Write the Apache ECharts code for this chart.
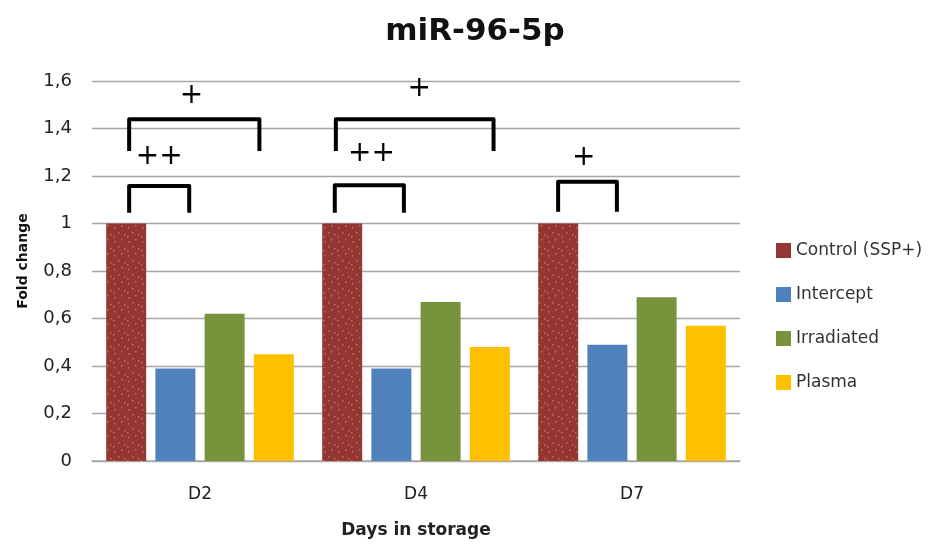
<!DOCTYPE html>
<html><head><meta charset="utf-8">
<script src="https://cdn.jsdelivr.net/npm/echarts@6/dist/echarts.min.js"></script>
<style>html,body{margin:0;padding:0;background:#fff}#c{width:936px;height:544px}</style>
</head><body><div id="c"></div>
<script>
const categories = ['D2', 'D4', 'D7'];
const seriesNames = ['Control (SSP+)', 'Intercept', 'Irradiated', 'Plasma'];
const controlVals = [1, 1, 1];
const interceptVals = [0.39, 0.39, 0.49];
const irradiatedVals = [0.62, 0.67, 0.69];
const plasmaVals = [0.45, 0.48, 0.57];
const yTicks = [0, 0.2, 0.4, 0.6, 0.8, 1, 1.2, 1.4, 1.6];
// significance brackets: category index, x offsets (fraction of category width), top & leg-bottom values
const bracketCat = [0, 0, 1, 1, 2];
const bracketX0 = [-0.328, -0.328, -0.371, -0.376, -0.342];
const bracketX1 = [-0.05, 0.275, 0.359, -0.056, -0.07];
const bracketTop = [1.158, 1.439, 1.439, 1.161, 1.176];
const bracketBottom = [1.045, 1.305, 1.305, 1.045, 1.05];
// significance marks
const markCat = [0, 0, 1, 1, 2];
const markX = [-0.189, -0.039, -0.206, 0.015, -0.224];
const markY = [1.281, 1.537, 1.293, 1.569, 1.277];
const markText = ['++', '+', '++', '+', '+'];

const FONT = 'DejaVu Sans';
const colors = ['#943634', '#4F81BD', '#77933C', '#FFC000'];
const vals = [controlVals, interceptVals, irradiatedVals, plasmaVals];

// sparse dotted texture for the control bars
const pc = document.createElement('canvas');
pc.width = 14; pc.height = 14;
const pctx = pc.getContext('2d');
pctx.fillStyle = '#943634'; pctx.fillRect(0, 0, 14, 14);
pctx.fillStyle = 'rgba(214,128,90,0.8)';
[[2, 3], [9, 1], [6, 8], [12, 10], [1, 12]].forEach(p => pctx.fillRect(p[0], p[1], 1.5, 1.5));

const chart = echarts.init(document.getElementById('c'));
const barSeries = seriesNames.map((n, i) => ({
  name: n, type: 'bar', data: vals[i], barWidth: 40, barGap: '23%',
  itemStyle: { color: i === 0 ? { image: pc, repeat: 'repeat' } : colors[i] },
  emphasis: { disabled: true }
}));

const bracketData = bracketCat.map((c, i) => [c, bracketX0[i], bracketX1[i], bracketTop[i], bracketBottom[i]]);
const markData = markCat.map((c, i) => [c, markX[i], markY[i]]);

chart.setOption({
  animation: false,
  color: colors,
  title: { text: 'miR-96-5p', left: 470, top: 11, textAlign: 'center',
    textStyle: { fontFamily: FONT, fontSize: 31, fontWeight: 'bold', color: '#111' } },
  legend: {
    data: seriesNames.map((n, i) => ({ name: n, itemStyle: { color: colors[i] } })),
    orient: 'vertical', left: 771, top: 237, itemWidth: 15, itemHeight: 15,
    itemGap: 27, icon: 'rect', selectedMode: false,
    textStyle: { fontFamily: FONT, fontSize: 17, color: '#333' }
  },
  grid: { left: 92, right: 196, top: 81, bottom: 83, containLabel: false },
  xAxis: {
    type: 'category', data: categories,
    name: 'Days in storage', nameLocation: 'middle', nameGap: 61,
    nameTextStyle: { fontFamily: FONT, fontSize: 17, fontWeight: 'bold', color: '#222' },
    axisLine: { lineStyle: { color: '#aaa', width: 1.5 } }, axisTick: { show: false },
    axisLabel: { fontFamily: FONT, fontSize: 17, color: '#222', margin: 25 }
  },
  yAxis: {
    type: 'value', min: 0, max: 1.6, interval: 0.2,
    name: 'Fold change', nameLocation: 'middle', nameGap: 62, nameRotate: 90,
    nameTextStyle: { fontFamily: FONT, fontSize: 14, fontWeight: 'bold', color: '#111', padding: [0, 0, 0, 20] },
    axisLine: { show: false }, axisTick: { show: false },
    axisLabel: { fontFamily: FONT, fontSize: 18, color: '#222', margin: 20,
      formatter: v => { const t = yTicks.find(x => Math.abs(x - v) < 1e-6); return t === undefined ? '' : String(+t.toFixed(1)).replace('.', ','); } },
    splitLine: { lineStyle: { color: '#a6a6a6', width: 1.3 } }
  },
  series: barSeries.concat([
    {
      type: 'custom', data: bracketData, silent: true, z: 5,
      encode: { x: 0, y: 3 },
      renderItem: (params, api) => {
        const c = api.value(0);
        const w = api.size([1, 0])[0];
        const p0 = api.coord([c, api.value(3)]);
        const pb = api.coord([c, api.value(4)]);
        const xa = p0[0] + api.value(1) * w, xb = p0[0] + api.value(2) * w;
        return { type: 'polyline', shape: { points: [[xa, pb[1]], [xa, p0[1]], [xb, p0[1]], [xb, pb[1]]] },
          style: { stroke: '#000', lineWidth: 4, fill: null, lineJoin: 'round' } };
      }
    },
    {
      type: 'custom', data: markData, silent: true, z: 5,
      encode: { x: 0, y: 2 },
      renderItem: (params, api) => {
        const c = api.value(0);
        const w = api.size([1, 0])[0];
        const p = api.coord([c, api.value(2)]);
        return { type: 'text', style: { x: p[0] + api.value(1) * w, y: p[1], text: markText[params.dataIndex],
          fontSize: 28, fontFamily: 'DejaVu Sans', fill: '#000', align: 'center', verticalAlign: 'middle' } };
      }
    }
  ])
});
</script></body></html>
